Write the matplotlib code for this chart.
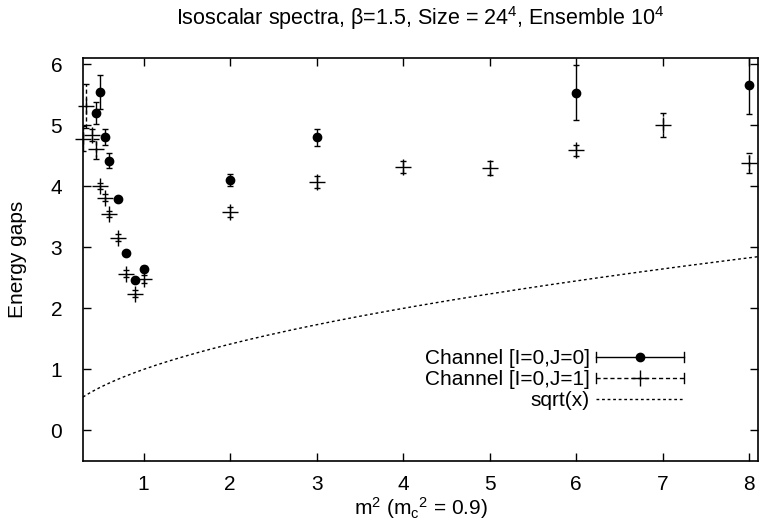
import numpy as np
import matplotlib
matplotlib.use("Agg")
import matplotlib.pyplot as plt
from matplotlib.lines import Line2D
from matplotlib.legend_handler import HandlerBase

plt.rcParams['font.family'] = ['Liberation Sans', 'DejaVu Sans']
plt.rcParams['mathtext.fontset'] = 'custom'
plt.rcParams['mathtext.rm'] = 'Liberation Sans'
plt.rcParams['mathtext.default'] = 'regular'
plt.rcParams['font.size'] = 15

# channel [I=0,J=0]
m2_j0 = [0.45, 0.5, 0.55, 0.6, 0.7, 0.8, 0.9, 1.0, 2, 3, 6, 8]
gap_j0 = [5.20, 5.54, 4.80, 4.42, 3.79, 2.91, 2.46, 2.65, 4.10, 4.80, 5.53, 5.66]
err_j0 = [0.18, 0.28, 0.13, 0.12, 0.03, 0.03, 0.03, 0.04, 0.10, 0.14, 0.45, 0.48]

# channel [I=0,J=1]
m2_j1 = [0.3, 0.33, 0.4, 0.45, 0.5, 0.55, 0.6, 0.7, 0.8, 0.9, 1.0, 2, 3, 4, 5, 6, 7, 8]
gap_j1 = [4.78, 5.31, 4.84, 4.61, 4.00, 3.81, 3.54, 3.16, 2.57, 2.24, 2.48, 3.58,
          4.07, 4.31, 4.30, 4.59, 5.00, 4.38]
err_j1 = [0.20, 0.36, 0.10, 0.17, 0.05, 0.06, 0.05, 0.06, 0.06, 0.06, 0.07, 0.08,
          0.10, 0.10, 0.11, 0.09, 0.20, 0.17]

xmin, xmax = 0.3, 8.1
ymin, ymax = -0.5, 6.1


class KeyHandler(HandlerBase):
    # gnuplot style key sample: horizontal bar with end caps and a point in the middle
    def __init__(self, marker, ms, ls, mew=1.0):
        super().__init__()
        self.marker, self.ms, self.ls, self.mew = marker, ms, ls, mew

    def create_artists(self, legend, orig_handle, xdescent, ydescent,
                       width, height, fontsize, trans):
        y = height / 2 - ydescent
        x0, x1 = -xdescent, width - xdescent
        c = 3.5
        bar = Line2D([x0, x1], [y, y], color='k', lw=1, ls=self.ls)
        caps = Line2D([x0, x0, np.nan, x1, x1], [y - c, y + c, np.nan, y - c, y + c],
                      color='k', lw=1)
        pt = Line2D([(x0 + x1) / 2], [y], marker=self.marker, ms=self.ms,
                    mew=self.mew, color='k', ls='none')
        for a in (bar, caps, pt):
            a.set_transform(trans)
        return [bar, caps, pt]


class LineHandler(HandlerBase):
    def create_artists(self, legend, orig_handle, xdescent, ydescent,
                       width, height, fontsize, trans):
        y = height / 2 - ydescent
        ln = Line2D([-xdescent, width - xdescent], [y, y], color='k', lw=1,
                    ls=(0, (2, 2)))
        ln.set_transform(trans)
        return [ln]


fig = plt.figure(figsize=(7.59, 5.31), dpi=100)
ax = fig.add_axes([83 / 759, 1 - 461 / 531, 675 / 759, 403 / 531])

h0 = ax.errorbar(m2_j0, gap_j0, yerr=err_j0, fmt='o', color='k', ms=6,
                 elinewidth=1, capsize=2.5, capthick=1)
h1 = ax.errorbar(m2_j1, gap_j1, yerr=err_j1, fmt='+', color='k', ms=12, mew=1,
                 elinewidth=1, capsize=2.5, capthick=1)
h1[2][0].set_linestyle((0, (3, 2)))
h1[0].set_clip_on(False)

xs = np.linspace(xmin, xmax, 400)
h2, = ax.plot(xs, np.sqrt(xs), color='k', lw=1, ls=(0, (2, 2)))

ax.set_xlim(xmin, xmax)
ax.set_ylim(ymin, ymax)
ax.set_xticks(range(1, 9))
ax.set_yticks(range(0, 7))
ax.tick_params(direction='in', length=6, width=1, top=True, right=True)
ax.tick_params(axis='y', pad=15)
ax.tick_params(axis='x', pad=10)
for s in ax.spines.values():
    s.set_linewidth(1.2)

ax.set_title(r'Isoscalar spectra, $\beta$=1.5, Size = 24$^4$, Ensemble 10$^4$',
             fontsize=15.5, pad=24)
ax.set_xlabel(r'm$^2$ (m$_c$$^2$ = 0.9)', labelpad=1)
ax.set_ylabel('Energy gaps', labelpad=17)

ax.legend([h0, h1, h2], ['Channel [I=0,J=0]', 'Channel [I=0,J=1]', 'sqrt(x)'],
          handler_map={h0: KeyHandler('o', 6, '-'),
                       h1: KeyHandler('+', 12, (0, (3, 2))),
                       h2: LineHandler()},
          loc='upper right', bbox_to_anchor=(0.89, 0.278), frameon=False,
          markerfirst=False, handlelength=4.2, handletextpad=0.3,
          labelspacing=0.1, borderpad=0, borderaxespad=0)

fig.savefig('out.png', dpi=100)
